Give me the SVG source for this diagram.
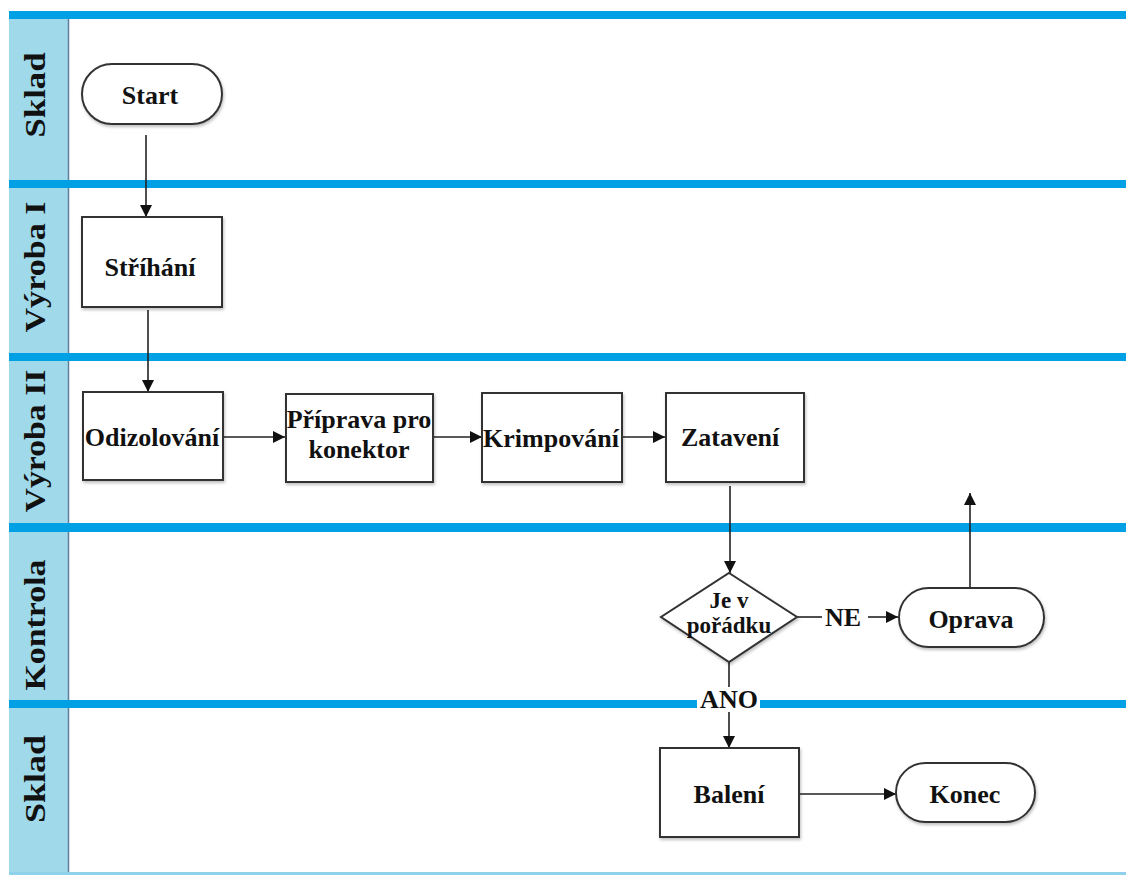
<svg xmlns="http://www.w3.org/2000/svg" width="1126" height="876" viewBox="0 0 1126 876">
  <defs>
    <marker id="arrow" viewBox="0 0 12 12" refX="12" refY="6" markerWidth="12" markerHeight="12" markerUnits="userSpaceOnUse" orient="auto">
      <path d="M0,0 L12,6 L0,12 z" fill="#111"/>
    </marker>
    <filter id="shadow" x="-10%" y="-10%" width="125%" height="130%">
      <feDropShadow dx="1" dy="2" stdDeviation="1.5" flood-color="#000" flood-opacity="0.25"/>
    </filter>
  </defs>
  <style>
    .band { fill: #9fd9ea; }
    .bar { fill: #00a0e4; }
    .shape { fill: #fff; stroke: #333; stroke-width: 2; filter: url(#shadow); }
    .lane { font-family: "Liberation Serif", "Times New Roman", serif; font-weight: bold; font-size: 30px; fill: #111; text-anchor: middle; }
    .label { font-family: "Liberation Serif", "Times New Roman", serif; font-weight: bold; font-size: 26px; fill: #111; text-anchor: middle; }
    .small { font-size: 23px; }
    .conn { fill: none; stroke: #222; stroke-width: 1.6; }
  </style>

  <rect width="1126" height="876" fill="#fff"/>

  <!-- swimlane frame -->
  <g id="lanes">
    <rect class="band" x="9" y="11" width="59" height="863"/>
    <line x1="68.5" y1="19" x2="68.5" y2="874" stroke="#5f7f9c" stroke-width="1.5"/>
    <rect x="9" y="872" width="1117" height="3" fill="#8fd0ea"/>
    <rect class="bar" x="9" y="11" width="1117" height="8"/>
    <rect class="bar" x="9" y="180" width="1117" height="8"/>
    <rect class="bar" x="9" y="353" width="1117" height="8"/>
    <rect class="bar" x="9" y="523" width="1117" height="9"/>
    <rect class="bar" x="9" y="700" width="1117" height="8"/>
    <text class="lane" transform="translate(45,95) rotate(-90)" textLength="85" lengthAdjust="spacingAndGlyphs">Sklad</text>
    <text class="lane" transform="translate(45,267) rotate(-90)" textLength="131" lengthAdjust="spacingAndGlyphs">Výroba I</text>
    <text class="lane" transform="translate(45,441) rotate(-90)" textLength="143" lengthAdjust="spacingAndGlyphs">Výroba II</text>
    <text class="lane" transform="translate(45,625) rotate(-90)" textLength="131" lengthAdjust="spacingAndGlyphs">Kontrola</text>
    <text class="lane" transform="translate(45,779) rotate(-90)" textLength="88" lengthAdjust="spacingAndGlyphs">Sklad</text>
  </g>

  <!-- connectors -->
  <g id="connectors">
    <line class="conn" x1="146" y1="135" x2="146" y2="217" marker-end="url(#arrow)"/>
    <line class="conn" x1="148" y1="310" x2="148" y2="392" marker-end="url(#arrow)"/>
    <line class="conn" x1="223" y1="437" x2="285" y2="437" marker-end="url(#arrow)"/>
    <line class="conn" x1="433" y1="437" x2="482" y2="437" marker-end="url(#arrow)"/>
    <line class="conn" x1="622" y1="437" x2="665" y2="437" marker-end="url(#arrow)"/>
    <line class="conn" x1="730" y1="486" x2="730" y2="573" marker-end="url(#arrow)"/>
    <line class="conn" x1="797" y1="617" x2="822" y2="617"/>
    <line class="conn" x1="868" y1="617" x2="898" y2="617" marker-end="url(#arrow)"/>
    <line class="conn" x1="970" y1="588" x2="970" y2="493" marker-end="url(#arrow)"/>
    <line class="conn" x1="729" y1="662" x2="729" y2="688"/>
    <line class="conn" x1="729" y1="712" x2="729" y2="748" marker-end="url(#arrow)"/>
    <line class="conn" x1="799" y1="794" x2="896" y2="794" marker-end="url(#arrow)"/>
    <rect x="697" y="687" width="63" height="24" fill="#fff"/>
    <text class="label" x="729" y="708">ANO</text>
    <text class="label" x="843" y="626">NE</text>
  </g>

  <g id="start">
    <rect class="shape" x="82" y="64" width="140" height="60" rx="30" ry="30"/>
    <text class="label" x="150" y="104">Start</text>
  </g>

  <g id="strihani">
    <rect class="shape" x="82" y="217" width="140" height="90"/>
    <text class="label" x="150" y="276">Stříhání</text>
  </g>

  <g id="odizolovani">
    <rect class="shape" x="83" y="392" width="140" height="88"/>
    <text class="label" x="152" y="446">Odizolování</text>
  </g>

  <g id="priprava">
    <rect class="shape" x="286" y="394" width="147" height="88"/>
    <text class="label" x="359" y="428">Příprava pro</text>
    <text class="label" x="359" y="458">konektor</text>
  </g>

  <g id="krimpovani">
    <rect class="shape" x="482" y="393" width="140" height="89"/>
    <text class="label" x="551" y="447">Krimpování</text>
  </g>

  <g id="zataveni">
    <rect class="shape" x="666" y="393" width="138" height="89"/>
    <text class="label" x="730" y="446">Zatavení</text>
  </g>

  <g id="kontrola">
    <polygon class="shape" points="729,573 797,617 729,662 661,617"/>
    <text class="label small" x="729" y="608">Je v</text>
    <text class="label small" x="729" y="633">pořádku</text>
  </g>

  <g id="oprava">
    <rect class="shape" x="899" y="588" width="145" height="59" rx="29.5" ry="29.5"/>
    <text class="label" x="971" y="628">Oprava</text>
  </g>

  <g id="baleni">
    <rect class="shape" x="660" y="748" width="139" height="89"/>
    <text class="label" x="729" y="803">Balení</text>
  </g>

  <g id="konec">
    <rect class="shape" x="896" y="763" width="139" height="59" rx="29.5" ry="29.5"/>
    <text class="label" x="965" y="803">Konec</text>
  </g>
</svg>
